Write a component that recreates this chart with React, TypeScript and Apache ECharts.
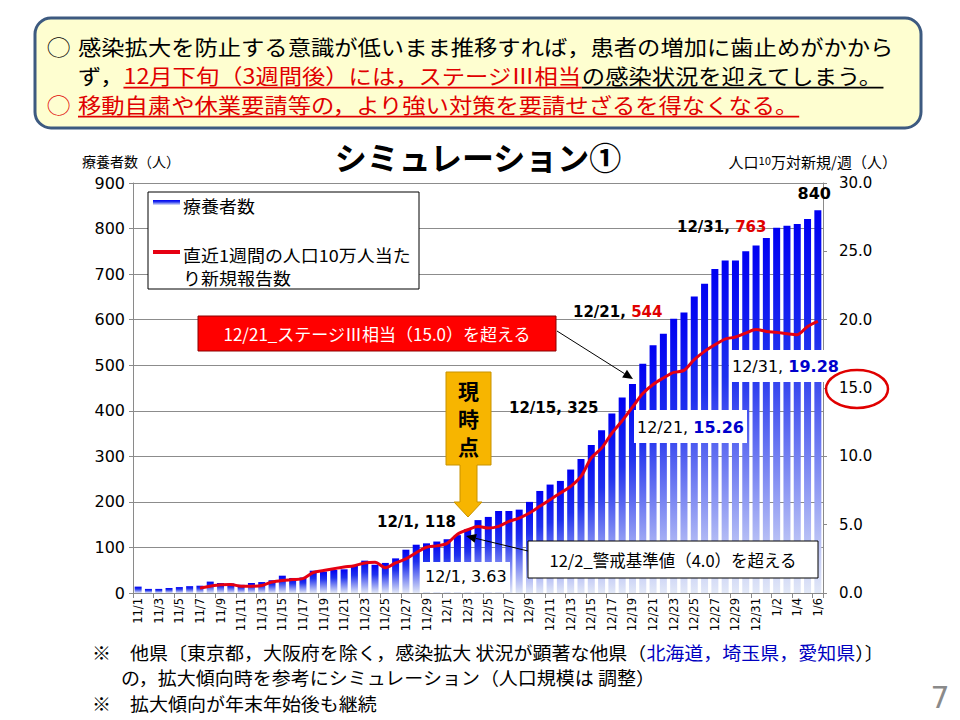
import React, { useEffect, useRef } from "react";
import * as echarts from "echarts";

const categories = [
  "11/1","11/2","11/3","11/4","11/5","11/6","11/7","11/8","11/9","11/10",
  "11/11","11/12","11/13","11/14","11/15","11/16","11/17","11/18","11/19","11/20",
  "11/21","11/22","11/23","11/24","11/25","11/26","11/27","11/28","11/29","11/30",
  "12/1","12/2","12/3","12/4","12/5","12/6","12/7","12/8","12/9","12/10",
  "12/11","12/12","12/13","12/14","12/15","12/16","12/17","12/18","12/19","12/20",
  "12/21","12/22","12/23","12/24","12/25","12/26","12/27","12/28","12/29","12/30","12/31",
  "1/1","1/2","1/3","1/4","1/5","1/6",
];

const patients = [
  14, 9, 9, 11, 13, 15, 16, 25, 22, 21,
  18, 22, 24, 28, 38, 33, 34, 49, 47, 51,
  52, 60, 71, 62, 66, 76, 95, 106, 109, 113,
  118, 127, 140, 160, 167, 180, 180, 183, 200, 224,
  238, 246, 271, 294, 325, 357, 394, 429, 459, 503,
  544, 569, 602, 616, 651, 679, 711, 730, 730, 750, 763,
  779, 802, 806, 810, 821, 840,
];

const newCasesPer100k: (number | null)[] = [
  null, null, null, null, null, null, 0.37, 0.5, 0.6, 0.62,
  0.5, 0.5, 0.55, 0.8, 0.92, 0.98, 1.05, 1.5, 1.65, 1.78,
  1.9, 2.0, 2.2, 2.25, 1.85, 2.2, 2.5, 2.95, 3.35, 3.45,
  3.63, 4.3, 4.63, 4.87, 4.75, 4.87, 5.24, 5.48, 5.85, 6.34,
  6.83, 7.32, 7.8, 8.53, 9.88, 10.6, 11.7, 12.6, 13.6, 14.6,
  15.26, 15.73, 16.14, 16.29, 17.07, 17.68, 18.16, 18.58, 18.73, 19.02, 19.28,
  19.14, 19.07, 18.97, 18.9, 19.5, 19.87,
];

const leftAxis = { min: 0, max: 900, step: 100 };
const rightAxis = { min: 0, max: 30, step: 5 };

const headerLine1 = "感染拡大を防止する意識が低いまま推移すれば，患者の増加に歯止めがかから";
const headerLine2a = "ず，";
const headerLine2b = "12月下旬（3週間後）には，ステージⅢ相当";
const headerLine2c = "の感染状況を迎えてしまう。";
const headerLine3 = "移動自粛や休業要請等の，より強い対策を要請せざるを得なくなる。";

const JP = '"Noto Sans CJK JP", sans-serif';
const NUM = '"DejaVu Sans", sans-serif';

function measure(text: string, font: string): number {
  const ctx = document.createElement("canvas").getContext("2d");
  if (!ctx) return text.length * 20;
  ctx.font = font;
  return ctx.measureText(text).width;
}

type Seg = { t: string; c: string; u?: boolean };

function txt(x: number, y: number, text: string, font: string, fill: string, align = "left", sx = 1) {
  return {
    type: "text",
    x,
    y,
    z: 50,
    scaleX: sx,
    style: {
      text,
      font,
      fill,
      align,
      verticalAlign: "middle",
      textAlign: align,
      textVerticalAlign: "middle",
    },
  };
}

function segLine(segs: Seg[], x0: number, y: number, size: number, sx: number) {
  const font = `${size}px ${JP}`;
  const els: any[] = [];
  let x = x0;
  for (const s of segs) {
    const w = measure(s.t, font) * sx;
    els.push(txt(x, y, s.t, font, s.c, "left", sx));
    if (s.u) {
      els.push({
        type: "line",
        z: 50,
        shape: { x1: x, y1: y + size * 0.6, x2: x + w, y2: y + size * 0.6 },
        style: { stroke: s.c, lineWidth: 1.6 },
      });
    }
    x += w;
  }
  return els;
}

function arrow(x1: number, y1: number, x2: number, y2: number) {
  const ang = Math.atan2(y2 - y1, x2 - x1);
  const L = 10;
  const W = 4.5;
  const bx = x2 - L * Math.cos(ang);
  const by = y2 - L * Math.sin(ang);
  const px = -Math.sin(ang) * W;
  const py = Math.cos(ang) * W;
  return [
    { type: "line", z: 60, shape: { x1, y1, x2: bx, y2: by }, style: { stroke: "#000", lineWidth: 1 } },
    {
      type: "polygon",
      z: 60,
      shape: { points: [[x2, y2], [bx + px, by + py], [bx - px, by - py]] },
      style: { fill: "#000" },
    },
  ];
}

function barGradient() {
  return new echarts.graphic.LinearGradient(0, 0, 0, 1, [
    { offset: 0, color: "#0000f2" },
    { offset: 0.35, color: "#1f30ee" },
    { offset: 1, color: "#e2e8f7" },
  ]);
}

function buildGraphic() {
  const els: any[] = [];
  // Header box
  els.push({
    type: "rect",
    z: 40,
    shape: { x: 35, y: 18, width: 886, height: 110, r: 16 },
    style: { fill: "#fefed0", stroke: "#3d5a80", lineWidth: 3 },
  });
  const hs = 21;
  const hsx = 1.11;
  els.push(txt(47, 45.5, "◯", `${hs}px ${JP}`, "#000", "left", hsx));
  els.push(...segLine([{ t: headerLine1, c: "#000" }], 78, 45.5, hs, hsx));
  els.push(
    ...segLine(
      [
        { t: headerLine2a, c: "#000" },
        { t: headerLine2b, c: "#e00000", u: true },
        { t: headerLine2c, c: "#000", u: true },
      ],
      78,
      75,
      hs,
      hsx
    )
  );
  els.push(txt(47, 104, "◯", `${hs}px ${JP}`, "#e00000", "left", hsx));
  els.push(...segLine([{ t: headerLine3, c: "#e00000", u: true }], 78, 104, hs, hsx));

  // Title and axis names
  els.push(txt(478, 156, "シミュレーション①", `bold 32px ${JP}`, "#000", "center"));
  els.push(txt(82, 161, "療養者数（人）", `14px ${JP}`, "#000"));
  els.push({
    type: "text",
    x: 897,
    y: 161,
    z: 50,
    style: {
      text: "{a|人口}{s|10}{a|万対新規/週（人）}",
      align: "right",
      verticalAlign: "middle",
      textAlign: "right",
      textVerticalAlign: "middle",
      rich: {
        a: { font: `15px ${JP}`, fill: "#000" },
        s: { font: `10px ${NUM}`, fill: "#000" },
      },
    },
  });

  // Legend
  els.push({
    type: "rect",
    z: 45,
    shape: { x: 148, y: 192, width: 271, height: 97 },
    style: { fill: "#fff", stroke: "#000", lineWidth: 1 },
  });
  els.push({
    type: "rect",
    z: 46,
    shape: { x: 153, y: 200, width: 27, height: 5 },
    style: { fill: barGradient() },
  });
  const ls = 16.5;
  const lsx = 1.09;
  els.push(txt(183, 206, "療養者数", `${ls}px ${JP}`, "#000", "left", lsx));
  els.push({
    type: "line",
    z: 46,
    shape: { x1: 153, y1: 252, x2: 180, y2: 252 },
    style: { stroke: "#e60012", lineWidth: 4 },
  });
  els.push(txt(183, 255, "直近1週間の人口10万人当た", `${ls}px ${JP}`, "#000", "left", lsx));
  els.push(txt(183, 278, "り新規報告数", `${ls}px ${JP}`, "#000", "left", lsx));

  // Stage III box
  els.push({
    type: "rect",
    z: 45,
    shape: { x: 198, y: 316, width: 358, height: 35 },
    style: { fill: "#ff0000", stroke: "#8a0000", lineWidth: 1 },
  });
  els.push(txt(377, 333.5, "12/21_ステージⅢ相当（15.0）を超える", `17px ${JP}`, "#fff", "center"));
  els.push(...arrow(557, 331, 633, 379));

  // 現時点 callout
  els.push({
    type: "polygon",
    z: 45,
    shape: {
      points: [
        [446, 372], [491, 372], [491, 465], [477, 465], [477, 502], [482, 502],
        [468, 517], [454, 502], [460, 502], [460, 465], [446, 465],
      ],
    },
    style: { fill: "#f7b500", stroke: "#c79200", lineWidth: 1 },
  });
  els.push(txt(468.5, 390, "現", `bold 21px ${JP}`, "#000", "center"));
  els.push(txt(468.5, 418, "時", `bold 21px ${JP}`, "#000", "center"));
  els.push(txt(468.5, 446, "点", `bold 21px ${JP}`, "#000", "center"));

  // 12/2 box
  els.push({
    type: "rect",
    z: 45,
    shape: { x: 528, y: 541, width: 290, height: 37 },
    style: { fill: "#fff", stroke: "#000", lineWidth: 1 },
  });
  els.push(txt(673, 559.5, "12/2_警戒基準値（4.0）を超える", `16.5px ${JP}`, "#000", "center"));
  els.push(...arrow(528, 551, 466, 536));

  // Value labels (bold)
  const boldF = `bold 15px ${NUM}`;
  els.push(txt(377, 522, "12/1, 118", boldF, "#000"));
  els.push(txt(509, 408, "12/15, 325", boldF, "#000"));
  els.push({
    type: "text",
    x: 573,
    y: 312,
    z: 50,
    style: {
      text: "{a|12/21, }{b|544}",
      verticalAlign: "middle",
      textVerticalAlign: "middle",
      rich: { a: { font: boldF, fill: "#000" }, b: { font: boldF, fill: "#e00000" } },
    },
  });
  els.push({
    type: "text",
    x: 677,
    y: 227,
    z: 50,
    style: {
      text: "{a|12/31, }{b|763}",
      verticalAlign: "middle",
      textVerticalAlign: "middle",
      rich: { a: { font: boldF, fill: "#000" }, b: { font: boldF, fill: "#e00000" } },
    },
  });
  els.push(txt(831, 193, "840", `bold 16px ${NUM}`, "#000", "right"));

  // Line value labels with white backgrounds
  els.push({ type: "rect", z: 44, shape: { x: 422, y: 562, width: 88, height: 30 }, style: { fill: "#fff" } });
  els.push(txt(425, 576, "12/1, 3.63", `16px ${NUM}`, "#000"));

  els.push({ type: "rect", z: 44, shape: { x: 634, y: 410, width: 113, height: 33 }, style: { fill: "#fff" } });
  els.push({
    type: "text",
    x: 637,
    y: 427,
    z: 50,
    style: {
      text: "{a|12/21, }{b|15.26}",
      verticalAlign: "middle",
      textVerticalAlign: "middle",
      rich: { a: { font: `16px ${NUM}`, fill: "#000" }, b: { font: `bold 16px ${NUM}`, fill: "#0000cc" } },
    },
  });
  els.push({ type: "rect", z: 44, shape: { x: 729, y: 350, width: 111, height: 32 }, style: { fill: "#fff" } });
  els.push({
    type: "text",
    x: 732,
    y: 366,
    z: 50,
    style: {
      text: "{a|12/31, }{b|19.28}",
      verticalAlign: "middle",
      textVerticalAlign: "middle",
      rich: { a: { font: `16px ${NUM}`, fill: "#000" }, b: { font: `bold 16px ${NUM}`, fill: "#0000cc" } },
    },
  });

  // Red ellipse around 15.0
  els.push({
    type: "ellipse",
    z: 50,
    shape: { cx: 857, cy: 389, rx: 31, ry: 19 },
    style: { fill: "transparent", stroke: "#e00000", lineWidth: 2.5 },
  });

  // Footnotes
  const fs = 18;
  const fsx = 1.055;
  const ff = `${fs}px ${JP}`;
  els.push({
    type: "text",
    x: 92,
    y: 652,
    z: 50,
    scaleX: fsx,
    style: {
      text: "{a|※　他県〔東京都，大阪府を除く，感染拡大 状況が顕著な他県（}{b|北海道，埼玉県，愛知県}{a|）〕}",
      verticalAlign: "middle",
      textVerticalAlign: "middle",
      rich: { a: { font: ff, fill: "#000" }, b: { font: ff, fill: "#0000c0" } },
    },
  });
  els.push(txt(121, 677, "の，拡大傾向時を参考にシミュレーション（人口規模は 調整）", ff, "#000", "left", fsx));
  els.push(txt(92, 703, "※　拡大傾向が年末年始後も継続", ff, "#000", "left", fsx));

  // Page number
  els.push(txt(940, 697, "7", `30px ${NUM}`, "#8a8a8a", "center"));
  return els;
}

export default function App() {
  const ref = useRef<HTMLDivElement>(null);
  useEffect(() => {
    if (!ref.current) return;
    const chart = echarts.init(ref.current, undefined, { renderer: "svg" });
    const axisGrey = "#8a8a8a";
    chart.setOption({
      animation: false,
      backgroundColor: "#ffffff",
      grid: { left: 133, right: 137, top: 183, bottom: 127, containLabel: false },
      xAxis: {
        type: "category",
        data: categories,
        boundaryGap: true,
        axisLine: { show: true, lineStyle: { color: axisGrey } },
        axisTick: { show: true, interval: 1, length: 5, lineStyle: { color: axisGrey } },
        axisLabel: { interval: 1, rotate: 90, fontSize: 11.5, fontFamily: NUM, color: "#000", margin: 5 },
      },
      yAxis: [
        {
          type: "value",
          position: "left",
          min: leftAxis.min,
          max: leftAxis.max,
          interval: leftAxis.step,
          axisLine: { show: true, lineStyle: { color: axisGrey } },
          axisTick: { show: true, length: 4, lineStyle: { color: axisGrey } },
          axisLabel: { fontSize: 16, fontFamily: NUM, color: "#000", margin: 8 },
          splitLine: { show: true, lineStyle: { color: "#8c8c8c", width: 1 } },
        },
        {
          type: "value",
          position: "right",
          min: rightAxis.min,
          max: rightAxis.max,
          interval: rightAxis.step,
          axisLine: { show: true, lineStyle: { color: axisGrey } },
          axisTick: { show: true, length: 4, lineStyle: { color: axisGrey } },
          axisLabel: {
            fontSize: 15,
            fontFamily: NUM,
            color: "#000",
            margin: 16,
            formatter: (v: number) => v.toFixed(1),
          },
          splitLine: { show: false },
        },
      ],
      series: [
        {
          type: "bar",
          name: "療養者数",
          data: patients,
          yAxisIndex: 0,
          barWidth: 7,
          itemStyle: { color: barGradient() },
          z: 2,
        },
        {
          type: "line",
          name: "直近1週間の人口10万人当たり新規報告数",
          data: newCasesPer100k,
          yAxisIndex: 1,
          smooth: 0.3,
          showSymbol: false,
          symbol: "none",
          connectNulls: false,
          lineStyle: { color: "#e60012", width: 3 },
          itemStyle: { color: "#e60012" },
          z: 3,
        },
      ],
      graphic: { elements: buildGraphic() },
    });
    return () => chart.dispose();
  }, []);
  return (
    <div
      ref={ref}
      style={{ position: "absolute", left: 0, top: 0, width: 960, height: 720, background: "#fff" }}
    />
  );
}
